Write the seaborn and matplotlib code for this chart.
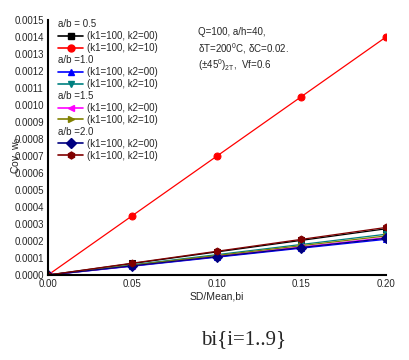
import numpy as np
import pandas as pd
import seaborn as sns
import matplotlib.pyplot as plt
from matplotlib.lines import Line2D

sd_mean = [0.0, 0.05, 0.10, 0.15, 0.20]

# Cov of w0 for each a/b ratio and (k1, k2) pair
ab05_k00 = [0.0, 0.000068, 0.000136, 0.000204, 0.000272]
ab05_k10 = [0.0, 0.00035, 0.0007, 0.00105, 0.0014]
ab10_k00 = [0.0, 0.000052, 0.000105, 0.000158, 0.00021]
ab10_k10 = [0.0, 0.00006, 0.00012, 0.00018, 0.00024]
ab15_k00 = [0.0, 0.000055, 0.00011, 0.000165, 0.00022]
ab15_k10 = [0.0, 0.000058, 0.000115, 0.000173, 0.00023]
ab20_k00 = [0.0, 0.000054, 0.000108, 0.000162, 0.000216]
ab20_k10 = [0.0, 0.00007, 0.00014, 0.00021, 0.00028]

series = [
    ("a/b = 0.5", "(k1=100, k2=00)", ab05_k00, "black", "s"),
    (None, "(k1=100, k2=10)", ab05_k10, "red", "o"),
    ("a/b =1.0", "(k1=100, k2=00)", ab10_k00, "blue", "^"),
    (None, "(k1=100, k2=10)", ab10_k10, "#008080", "v"),
    ("a/b =1.5", "(k1=100, k2=00)", ab15_k00, "magenta", "<"),
    (None, "(k1=100, k2=10)", ab15_k10, "#808000", ">"),
    ("a/b =2.0", "(k1=100, k2=00)", ab20_k00, "#000080", "D"),
    (None, "(k1=100, k2=10)", ab20_k10, "#800000", "h"),
]

sns.set_style("white")
plt.rcParams['font.family'] = ['Liberation Sans', 'DejaVu Sans']
plt.rcParams['mathtext.fontset'] = 'custom'
plt.rcParams['mathtext.rm'] = 'Liberation Sans'
plt.rcParams['mathtext.it'] = 'Liberation Sans'

fig = plt.figure(figsize=(4.1, 3.6), dpi=100)
ax = fig.add_axes([0.117, 0.236, 0.824, 0.708])

handles, labels, titles = [], [], []
for title, lab, vals, col, mk in series:
    df = pd.DataFrame({"x": sd_mean, "y": vals})
    sns.lineplot(data=df, x="x", y="y", color=col, marker=mk, markersize=5,
                 markeredgecolor=col, linewidth=0.9, ax=ax, legend=False)
    if title:
        handles.append(Line2D([], [], linestyle='none'))
        labels.append(title)
        titles.append(title)
    handles.append(Line2D([], [], color=col, marker=mk, markersize=5, linewidth=1.2))
    labels.append(lab)

ax.set_xlim(0, 0.20)
ax.set_ylim(0, 0.0015)
ax.set_xticks(np.arange(0, 0.2001, 0.05))
ax.set_yticks(np.arange(0, 0.00151, 0.0001))
ax.xaxis.set_major_formatter(plt.FormatStrFormatter('%.2f'))
ax.yaxis.set_major_formatter(plt.FormatStrFormatter('%.4f'))
ax.tick_params(length=0, labelsize=7, pad=3)
for s in ['top', 'right']:
    ax.spines[s].set_visible(False)
for s in ['left', 'bottom']:
    ax.spines[s].set_linewidth(1.5)
    ax.spines[s].set_color('black')
ax.set_xlabel("SD/Mean,bi", fontsize=7.5, labelpad=2)
ax.set_ylabel("")
fig.text(0.04, 0.57, "Cov, w$_0$", rotation=90, fontsize=7.5, ha='center', va='center')

leg = ax.legend(handles, labels, loc='upper left', bbox_to_anchor=(0.01, 1.03),
                frameon=False, fontsize=7, handlelength=2.6, handletextpad=0.4,
                labelspacing=0.2, borderpad=0.2)
for col in leg._legend_handle_box.get_children():
    for row in col.get_children():
        da, ta = row.get_children()
        if ta._text.get_text() in titles:
            da.width = 0
            row.sep = 0

ax.text(0.445, 0.955, "Q=100, a/h=40,", transform=ax.transAxes, fontsize=7, va='center')
ax.text(0.445, 0.89, r"$\delta$T=200$^0$C, $\delta$C=0.02.", transform=ax.transAxes, fontsize=7, va='center')
ax.text(0.445, 0.825, r"($\pm$45$^0$)$_{2T}$,  Vf=0.6", transform=ax.transAxes, fontsize=7, va='center')

fig.text(0.593, 0.058, "bi{i=1..9}", fontsize=15, family='Liberation Serif', ha='center', va='center')

fig.savefig("out.png", dpi=100)
